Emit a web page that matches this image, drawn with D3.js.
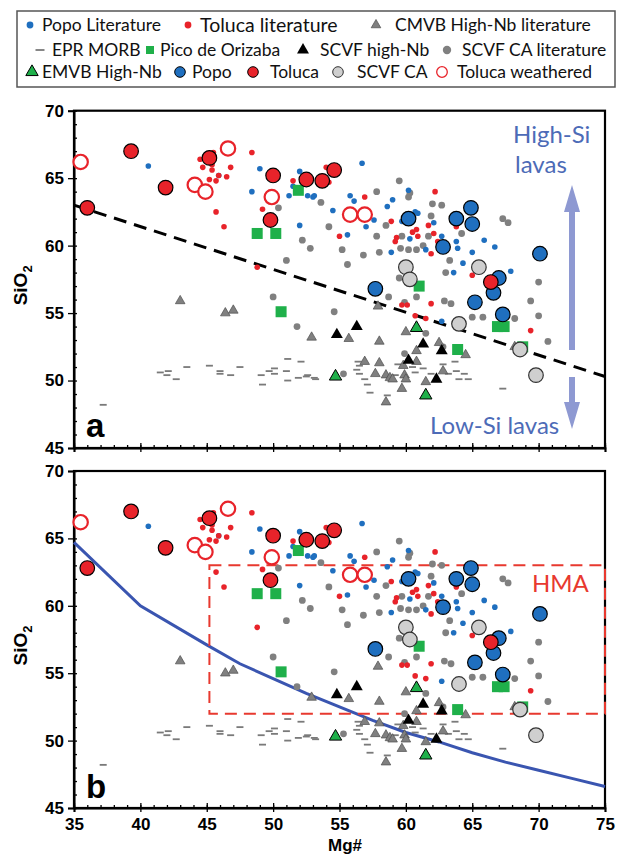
<!DOCTYPE html>
<html>
<head>
<meta charset="utf-8">
<script src="https://cdn.jsdelivr.net/npm/d3@7"></script>
<style>
  body { margin: 0; background: #fff; }
  svg { display: block; }
</style>
</head>
<body>
<div id="chart"></div>
<script>
// ---- data: [Mg#, SiO2] pairs ----
const popoLit = [[40.6,65.9],[49.0,65.7],[48.4,64.0],[52.0,65.5],[51.2,63.7],[51.5,64.4],[52.6,63.7],[53.0,63.6],
  [52.0,61.5],[56.7,66.1],[53.1,63.7],[54.5,62.6],[55.8,63.7],[56.1,63.3],[60.2,64.1],[59.0,63.4],[58.6,62.9],
  [57.6,61.9],[57.0,61.4],[55.6,60.8],[60.9,62.4],[59.7,61.8],[62.1,61.7],[62.7,60.7],[60.3,60.5],[58.9,59.5],
  [61.5,59.7],[63.9,59.8],[63.8,60.3],[65.0,59.5],[66.7,59.9],[65.9,60.4],[64.3,58.7],[63.6,58.0],[67.9,58.1],
  [62.7,54.4],[53.8,64.6],[45.9,65.2],[57.0,62.1],[60.7,62.5]];
const tolucaLit = [[44.5,66.4],[45.5,66.9],[44.7,65.8],[45.4,66.0],[45.4,65.6],[45.2,64.9],[45.9,65.2],[45.7,64.8],
  [46.5,65.1],[46.8,65.8],[45.7,62.5],[46.3,61.4],[48.4,66.9],[49.2,62.7],[48.8,58.4],[51.5,64.8],[54.0,65.8],
  [54.2,64.7],[56.9,63.6],[62.2,64.0],[58.9,61.8],[61.7,61.5],[62.1,60.9],[60.8,61.2],[60.5,61.0],[60.9,60.7],
  [59.3,60.6],[59.2,60.3],[61.9,59.4],[62.4,60.3],[63.8,61.4],[55.0,60.7],[65.0,57.8],[59.7,55.6],[60.1,55.6],
  [61.9,55.7],[60.7,54.8],[61.5,54.6],[69.4,53.7]];
const cmvbLit = [[43.0,55.9],[46.4,55.0],[47.0,55.2],[52.9,53.2],[57.9,55.5],[55.7,53.1],[58.0,52.9],[60.0,53.6],
  [62.5,52.8],[64.5,51.9],[60.8,52.2],[68.2,52.5],[56.9,51.4],[58.0,51.3],[57.7,50.5],[58.5,50.4],[58.8,50.2],
  [59.0,50.1],[59.9,50.4],[60.0,50.1],[61.5,49.9],[59.7,49.4],[58.5,48.4],[60.8,51.4],[59.8,51.1],[62.8,50.7]];
const eprMorb = [[37.2,48.2],[41.5,50.6],[42.1,50.7],[42.0,50.4],[42.7,50.1],[43.5,51.0],[45.2,51.1],[46.0,50.7],
  [46.0,50.5],[46.8,50.4],[47.5,51.0],[49.1,50.4],[49.2,49.7],[49.7,50.7],[50.1,50.9],[50.1,50.5],[51.0,50.7],
  [51.1,51.6],[52.1,51.4],[51.1,50.0],[51.9,50.2],[52.6,50.4],[53.1,50.2],[52.5,50.3],[53.2,50.1],[56.4,51.4],
  [56.5,51.1],[56.3,50.8],[56.5,50.5],[56.9,50.1],[57.1,49.7],[57.3,49.1],[58.6,48.9],[59.2,50.4],[59.4,51.2],
  [60.5,51.0],[60.7,50.6],[61.3,50.9],[61.9,50.5],[62.8,51.2],[63.2,50.5],[63.7,51.4],[63.8,50.7],[64.4,50.5],
  [64.7,50.1],[64.0,50.1],[67.3,49.4]];
const pico = [[51.9,64.1],[48.8,60.9],[50.2,60.9],[50.6,55.1],[61.0,57.0],[66.9,54.0],[67.4,54.0],[63.9,52.3],[68.8,52.5]];
const scvfHighNb = [[56.3,54.0],[54.8,53.4],[61.3,52.7],[62.7,52.2],[60.2,51.5],[62.3,50.1]];
const scvfCaLit = [[50.4,62.8],[52.2,60.4],[52.8,59.8],[51.0,58.9],[53.6,63.2],[59.5,64.8],[57.8,64.0],[60.3,63.9],
  [60.2,63.6],[54.2,61.4],[55.2,59.7],[55.6,58.6],[56.8,59.3],[57.8,60.7],[58.0,59.5],[58.5,61.5],[59.6,59.8],
  [60.2,59.7],[60.8,59.7],[61.3,60.0],[61.7,60.7],[61.9,62.2],[62.0,63.1],[62.7,63.0],[64.2,60.9],[63.3,58.9],
  [63.0,58.0],[67.3,62.0],[67.7,61.7],[70.0,57.3],[59.5,57.6],[59.7,60.7],[58.7,56.2],[60.8,56.2],[62.9,55.9],
  [63.4,55.7],[65.0,54.7],[65.8,54.7],[68.2,54.6],[69.4,55.9],[70.0,54.8],[70.7,52.9],[59.9,55.8],[54.6,55.1],
  [59.9,52.0],[62.8,52.5],[61.5,53.5],[55.3,50.5],[50.0,56.2],[51.8,54.0]];
const emvbHighNb = [[60.8,53.9],[54.7,50.3],[61.5,48.9]];
const popo = [[60.2,62.0],[64.9,62.8],[63.8,62.0],[65.0,61.6],[62.8,59.9],[70.1,59.4],[67.0,57.6],[57.7,56.8],
  [65.2,55.8],[66.6,56.5],[67.3,54.9]];
const toluca = [[39.3,67.0],[41.9,64.3],[36.0,62.8],[45.2,66.5],[50.0,65.2],[49.8,61.9],[52.5,64.9],[54.6,65.6],
  [53.7,64.8],[66.4,57.3]];
const scvfCa = [[60.0,58.4],[60.3,57.5],[65.5,58.4],[64.0,54.2],[68.6,52.3],[69.8,50.4]];
const tolucaWeathered = [[35.5,66.2],[44.1,64.5],[44.9,64.0],[46.6,67.2],[49.9,63.6],[55.8,62.3],[56.9,62.3]];

// guide lines
const dividerLine = [[35,63.0],[75,50.3]];
const blueCurve = [[35,64.7],[40,60.0],[45,57.1],[47.5,55.7],[50,54.6],[52.5,53.5],[55,52.5],[57.5,51.5],
  [60,50.6],[62.5,49.9],[65,49.1],[67.5,48.4],[70,47.8],[72.5,47.2],[75,46.6]];
const hmaBox = {mg: [45.2, 75], si: [52, 63]};

const xTicks = [35, 40, 45, 50, 55, 60, 65, 70, 75];
const yTicks = [45, 50, 55, 60, 65, 70];

const BLUE = "#1f6fbf", RED = "#e8232a", GRAY = "#808080", GREEN = "#1fb04a", LIGHT = "#cfcfcf";

const svg = d3.select("#chart").append("svg")
    .attr("width", 618)
    .attr("height", 855)
    .style("font-family", "'Liberation Sans', Arial, sans-serif");

// marker drawing used for plot and legend
function marker(sel, kind) {
    if (kind === "popoLit") sel.append("circle").attr("r", 2.8).attr("fill", BLUE);
    else if (kind === "tolucaLit") sel.append("circle").attr("r", 2.8).attr("fill", RED);
    else if (kind === "scvfCaLit") sel.append("circle").attr("r", 3.4).attr("fill", GRAY);
    else if (kind === "cmvbLit") sel.append("path").attr("d", d3.symbol(d3.symbolTriangle, 40)())
        .attr("fill", GRAY).attr("stroke", "#4d4d4d").attr("stroke-width", 0.7);
    else if (kind === "eprMorb") sel.append("rect").attr("x", -3.5).attr("y", -0.9).attr("width", 7).attr("height", 1.8).attr("fill", "#7a7a7a");
    else if (kind === "pico") sel.append("rect").attr("x", -5.5).attr("y", -5.5).attr("width", 11).attr("height", 11).attr("fill", GREEN);
    else if (kind === "scvfHighNb") sel.append("path").attr("d", d3.symbol(d3.symbolTriangle, 62)())
        .attr("fill", "#000");
    else if (kind === "emvbHighNb") sel.append("path").attr("d", d3.symbol(d3.symbolTriangle, 66)())
        .attr("fill", GREEN).attr("stroke", "#000").attr("stroke-width", 1);
    else if (kind === "popo") sel.append("circle").attr("r", 7.3).attr("fill", BLUE).attr("stroke", "#000").attr("stroke-width", 1.2);
    else if (kind === "toluca") sel.append("circle").attr("r", 7.3).attr("fill", RED).attr("stroke", "#000").attr("stroke-width", 1.2);
    else if (kind === "scvfCa") sel.append("circle").attr("r", 7.3).attr("fill", LIGHT).attr("stroke", "#333").attr("stroke-width", 1.2);
    else if (kind === "tolucaWeathered") sel.append("circle").attr("r", 7.2).attr("fill", "#fff").attr("stroke", RED).attr("stroke-width", 2.2);
}

const series = [
    ["eprMorb", eprMorb], ["scvfCaLit", scvfCaLit], ["cmvbLit", cmvbLit], ["popoLit", popoLit],
    ["tolucaLit", tolucaLit], ["pico", pico], ["scvfHighNb", scvfHighNb], ["emvbHighNb", emvbHighNb],
    ["scvfCa", scvfCa], ["popo", popo], ["toluca", toluca], ["tolucaWeathered", tolucaWeathered]
];

function drawPanel(top, bottom, showXLabels) {
    const x = d3.scaleLinear().domain([35, 75]).range([74, 605]);
    const y = d3.scaleLinear().domain([45, 70]).range([bottom, top]);
    const g = svg.append("g");

    // y axis: major outward, minor inward
    const yMajor = g.append("g").attr("transform", "translate(74,0)")
        .call(d3.axisLeft(y).tickValues(yTicks).tickSize(6).tickPadding(4));
    yMajor.selectAll("text").style("font-size", "17px").style("font-weight", "bold").attr("fill", "#000");
    g.append("g").attr("transform", "translate(74,0)")
        .call(d3.axisLeft(y).tickValues(d3.range(45, 71)).tickSize(-3).tickFormat(""))
        .select(".domain").remove();

    // x axis: major ticks cross the axis, minor inward
    const xMajor = g.append("g").attr("transform", "translate(0," + bottom + ")")
        .call(d3.axisBottom(x).tickValues(xTicks).tickSize(4).tickPadding(6)
            .tickFormat(showXLabels ? d3.format("d") : ""));
    xMajor.selectAll("text").style("font-size", "17px").style("font-weight", "bold").attr("fill", "#000");
    g.append("g").attr("transform", "translate(0," + bottom + ")")
        .call(d3.axisBottom(x).tickValues(xTicks).tickSize(-5).tickFormat(""))
        .select(".domain").remove();
    g.append("g").attr("transform", "translate(0," + bottom + ")")
        .call(d3.axisBottom(x).tickValues(d3.range(35, 76)).tickSize(-3).tickFormat(""))
        .select(".domain").remove();
    g.selectAll(".tick line").attr("stroke-width", 1.3);
    g.selectAll(".domain").attr("stroke-width", 2);

    // frame
    g.append("rect")
        .attr("x", 74).attr("y", top)
        .attr("width", 605 - 74).attr("height", bottom - top)
        .attr("fill", "none").attr("stroke", "#000").attr("stroke-width", 2.2);

    // y label
    const yl = g.append("text")
        .attr("transform", "translate(27," + ((top + bottom) / 2 + 6) + ") rotate(-90)")
        .attr("text-anchor", "middle")
        .style("font-size", "19px").style("font-weight", "bold");
    yl.append("tspan").text("SiO");
    yl.append("tspan").attr("dy", 5).style("font-size", "13px").text("2");

    return {g, x, y};
}

function drawPoints(p) {
    series.forEach(([kind, pts]) => {
        p.g.append("g").selectAll("g")
            .data(pts)
            .enter().append("g")
            .attr("transform", d => "translate(" + p.x(d[0]) + "," + p.y(d[1]) + ")")
            .each(function() { marker(d3.select(this), kind); });
    });
}

// ---- panel a ----
const pa = drawPanel(110.7, 448, false);
pa.g.append("path")
    .datum(dividerLine)
    .attr("d", d3.line().x(d => pa.x(d[0])).y(d => pa.y(d[1])))
    .attr("fill", "none").attr("stroke", "#000").attr("stroke-width", 3)
    .attr("stroke-dasharray", "13,8");
drawPoints(pa);

// High-Si / Low-Si arrows
const arrowCol = "#8e99d2";
function arrow(x, y0, y1) {
    // from y0 (tail) to y1 (tip)
    const dir = y1 < y0 ? -1 : 1;
    const headLen = 27, headW = 8, shaft = 3;
    const yb = y1 - dir * headLen;
    pa.g.append("path")
        .attr("d", `M${x - shaft},${y0} L${x - shaft},${yb} L${x - headW},${yb} L${x},${y1} L${x + headW},${yb} L${x + shaft},${yb} L${x + shaft},${y0} Z`)
        .attr("fill", arrowCol);
}
arrow(572, 350, 185);
arrow(572, 377, 429);

const noteStyle = sel => sel.style("font-family", "Lato, 'Open Sans', sans-serif").style("font-size", "24px").attr("fill", "#4d6bb7");
pa.g.append("text").attr("x", 513).attr("y", 143).text("High-Si").call(noteStyle);
pa.g.append("text").attr("x", 515).attr("y", 173).text("lavas").call(noteStyle);
pa.g.append("text").attr("x", 430).attr("y", 434).text("Low-Si lavas").call(noteStyle);

pa.g.append("text").attr("x", 86).attr("y", 437)
    .style("font-size", "33px").style("font-weight", "bold").text("a");

// ---- panel b ----
const pb = drawPanel(471, 808, true);
pb.g.append("path")
    .datum(blueCurve)
    .attr("d", d3.line().x(d => pb.x(d[0])).y(d => pb.y(d[1])))
    .attr("fill", "none").attr("stroke", "#3a55b0").attr("stroke-width", 3);
pb.g.append("rect")
    .attr("x", pb.x(hmaBox.mg[0])).attr("y", pb.y(hmaBox.si[1]))
    .attr("width", pb.x(hmaBox.mg[1]) - pb.x(hmaBox.mg[0]))
    .attr("height", pb.y(hmaBox.si[0]) - pb.y(hmaBox.si[1]))
    .attr("fill", "none").attr("stroke", "#e8392f").attr("stroke-width", 2)
    .attr("stroke-dasharray", "12,7");
drawPoints(pb);
pb.g.append("text").attr("x", 532).attr("y", 592).text("HMA")
    .style("font-family", "Lato, 'Open Sans', sans-serif").style("font-size", "24px").attr("fill", "#e8392f");
pb.g.append("text").attr("x", 86).attr("y", 798)
    .style("font-size", "33px").style("font-weight", "bold").text("b");

svg.append("text").attr("x", 345).attr("y", 851).attr("text-anchor", "middle")
    .style("font-size", "17px").style("font-weight", "bold").text("Mg#");

// ---- legend ----
const legend = svg.append("g").style("font-family", "Lato, 'Open Sans', sans-serif");
legend.append("rect").attr("x", 17).attr("y", 11).attr("width", 598).attr("height", 76)
    .attr("fill", "#fff").attr("stroke", "#555").attr("stroke-width", 1.5);
const legendItems = [
    ["popoLit", "Popo Literature", 30, 42, 25, 17.5],
    ["tolucaLit", "Toluca literature", 188, 200, 25, 19.5],
    ["cmvbLit", "CMVB High-Nb literature", 376, 395, 25, 17.5],
    ["eprMorb", "EPR MORB", 40, 52, 50, 17.5],
    ["pico", "Pico de Orizaba", 150, 160, 50, 17.5],
    ["scvfHighNb", "SCVF high-Nb", 303, 320, 50, 17.5],
    ["scvfCaLit", "SCVF CA  literature", 447, 462, 50, 17.5],
    ["emvbHighNb", "EMVB High-Nb", 32, 42, 72, 17.5],
    ["popo", "Popo", 180, 192, 72, 17.5],
    ["toluca", "Toluca", 253, 270, 72, 17.5],
    ["scvfCa", "SCVF CA", 338, 357, 72, 17.5],
    ["tolucaWeathered", "Toluca weathered", 442, 457, 72, 17.5]
];
legendItems.forEach(([kind, label, mx, tx, ly, fs]) => {
    const m = legend.append("g").attr("transform", "translate(" + mx + "," + ly + ")");
    marker(m, kind);
    if (kind === "eprMorb") m.select("rect").attr("x", -4.5).attr("width", 9);
    if (kind === "pico") m.select("rect").attr("x", -4).attr("y", -4).attr("width", 8).attr("height", 8);
    if (kind === "popo" || kind === "toluca" || kind === "scvfCa" || kind === "tolucaWeathered")
        m.select("circle").attr("r", 5.3).attr("stroke-width", kind === "tolucaWeathered" ? 1.3 : 1);
    if (kind === "popoLit" || kind === "tolucaLit") m.select("circle").attr("r", 3.4);
    if (kind === "scvfCaLit") m.select("circle").attr("r", 4.2);
    legend.append("text").attr("x", tx).attr("y", ly).attr("dy", "0.35em")
        .style("font-size", fs + "px").attr("fill", "#111").text(label);
});
</script>
</body>
</html>
